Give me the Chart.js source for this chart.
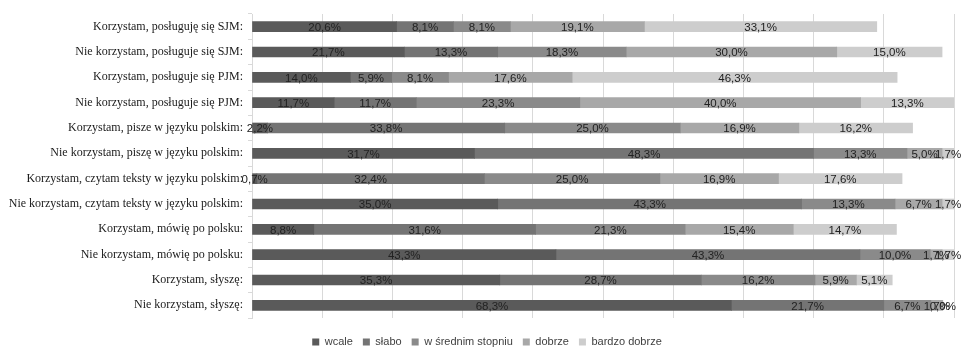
<!DOCTYPE html>
<html>
<head>
<meta charset="utf-8">
<script src="https://cdn.jsdelivr.net/npm/chart.js@4.4.0/dist/chart.umd.min.js"></script>
<style>
  html, body { margin: 0; padding: 0; background: #fff; overflow: hidden; }
  #wrap { width: 961px; height: 350px; }
</style>
</head>
<body>
<div id="wrap"><canvas id="barChart"></canvas></div>
<script>
var categories = [
  "Korzystam, posługuję się SJM:",
  "Nie korzystam, posługuje się SJM:",
  "Korzystam, posługuje się PJM:",
  "Nie korzystam, posługuje się PJM:",
  "Korzystam, pisze w języku polskim:",
  "Nie korzystam, piszę w języku polskim:",
  "Korzystam, czytam teksty w języku polskim:",
  "Nie korzystam, czytam teksty w języku polskim:",
  "Korzystam, mówię po polsku:",
  "Nie korzystam, mówię po polsku:",
  "Korzystam, słyszę:",
  "Nie korzystam, słyszę:"
];
var seriesNames = ["wcale", "słabo", "w średnim stopniu", "dobrze", "bardzo dobrze"];
var wcale        = [20.6, 21.7, 14.0, 11.7,  2.2, 31.7,  0.7, 35.0,  8.8, 43.3, 35.3, 68.3];
var slabo        = [ 8.1, 13.3,  5.9, 11.7, 33.8, 48.3, 32.4, 43.3, 31.6, 43.3, 28.7, 21.7];
var srednio      = [ 8.1, 18.3,  8.1, 23.3, 25.0, 13.3, 25.0, 13.3, 21.3, 10.0, 16.2,  6.7];
var dobrze       = [19.1, 30.0, 17.6, 40.0, 16.9,  5.0, 16.9,  6.7, 15.4,  1.7,  5.9,  1.7];
var bardzoDobrze = [33.1, 15.0, 46.3, 13.3, 16.2,  1.7, 17.6,  1.7, 14.7,  1.7,  5.1,  0.0];
var colors = ["#5a5a5a", "#747474", "#8a8a8a", "#a8a8a8", "#cdcdcd"];

// labels in the middle of each segment, Excel style "20,6%"
var segmentLabels = {
  id: 'segmentLabels',
  afterLayout: function(chart) {
    // legend in the original sits a bit right of the canvas centre
    chart.legend.left += 20;
  },
  afterDatasetsDraw: function(chart) {
    var ctx = chart.ctx;
    ctx.save();
    ctx.font = '11.5px "Liberation Sans", sans-serif';
    ctx.fillStyle = '#222222';
    ctx.textAlign = 'center';
    ctx.textBaseline = 'middle';
    chart.data.datasets.forEach(function(ds, i) {
      var meta = chart.getDatasetMeta(i);
      meta.data.forEach(function(bar, j) {
        var v = ds.data[j];
        var x = (bar.x + bar.base) / 2;
        ctx.fillText(v.toFixed(1).replace('.', ',') + '%', x, bar.y + 1);
      });
    });
    ctx.restore();
  }
};

var allData = [wcale, slabo, srednio, dobrze, bardzoDobrze];
var datasets = [];
for (var i = 0; i < allData.length; i++) {
  datasets.push({
    label: seriesNames[i],
    data: allData[i],
    backgroundColor: colors[i],
    borderWidth: 0,
    barThickness: 10
  });
}

var ctx = document.getElementById('barChart').getContext('2d');
var myChart = new Chart(ctx, {
  type: 'bar',
  data: { labels: categories, datasets: datasets },
  plugins: [segmentLabels],
  options: {
    indexAxis: 'y',
    responsive: true,
    maintainAspectRatio: false,
    animation: false,
    layout: { padding: { top: 14, right: 7, left: 0, bottom: -7.5 } },
    plugins: {
      tooltip: { enabled: false },
      legend: {
        position: 'bottom',
        labels: {
          boxWidth: 7,
          boxHeight: 7,
          padding: 10,
          color: '#404040',
          font: { family: '"Liberation Sans", sans-serif', size: 11 }
        }
      }
    },
    scales: {
      x: {
        stacked: true,
        min: 0,
        max: 100,
        ticks: { display: false, stepSize: 10 },
        grid: { color: '#d9d9d9', drawTicks: false },
        border: { display: false },
        afterFit: function(scale) { scale.height = 8.5; }
      },
      y: {
        stacked: true,
        offset: true,
        grid: { drawOnChartArea: false, offset: true, tickLength: 4, color: '#d9d9d9' },
        border: { color: '#d9d9d9' },
        ticks: {
          padding: 5,
          color: '#1a1a1a',
          font: { family: '"Liberation Serif", serif', size: 12 }
        },
        afterFit: function(scale) { scale.width = 252; }
      }
    }
  }
});
</script>
</body>
</html>
